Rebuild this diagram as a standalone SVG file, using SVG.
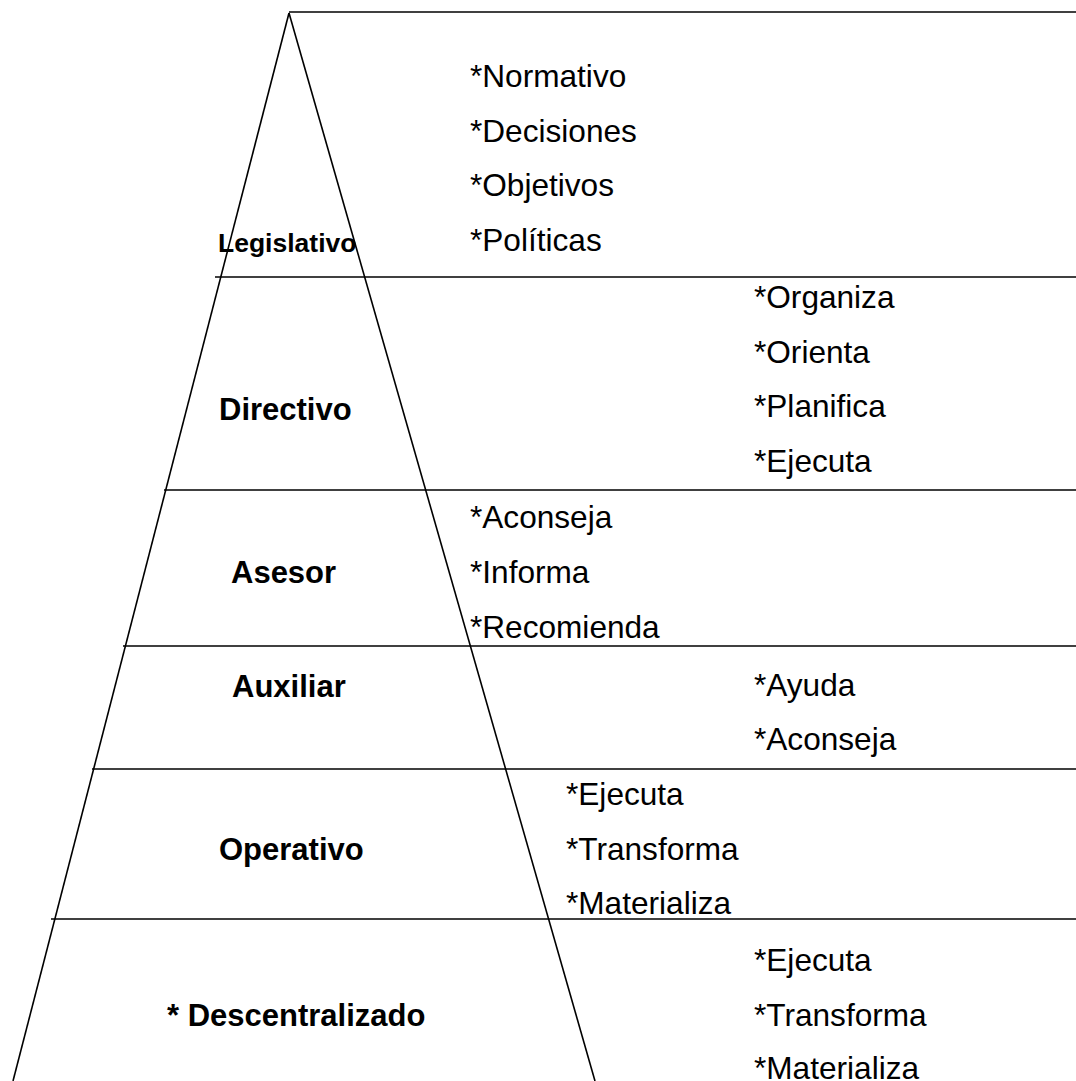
<svg xmlns="http://www.w3.org/2000/svg" width="1076" height="1081" viewBox="0 0 1076 1081">
  <style>
    .ln { stroke: #000; stroke-width: 1.6; fill: none; }
    .lvl { font-family: "Liberation Sans", Arial, sans-serif; font-weight: bold; font-size: 31px; fill: #000; }
    .fn { font-family: "Liberation Sans", Arial, sans-serif; font-size: 31.6px; fill: #000; }
  </style>
  <rect width="1076" height="1081" fill="#fff"/>

  <!-- pyramid outline and level dividers -->
  <g id="connectors">
    <line class="ln" x1="289" y1="13" x2="13" y2="1081"/>
    <line class="ln" x1="289" y1="13" x2="595" y2="1081"/>
    <line class="ln" x1="289" y1="12" x2="1076" y2="12"/>
    <line class="ln" x1="215" y1="277" x2="1076" y2="277"/>
    <line class="ln" x1="164" y1="490" x2="1076" y2="490"/>
    <line class="ln" x1="123" y1="646" x2="1076" y2="646"/>
    <line class="ln" x1="92" y1="769" x2="1076" y2="769"/>
    <line class="ln" x1="51" y1="919" x2="1076" y2="919"/>
  </g>

  <g id="legislativo">
    <text class="lvl" x="218" y="252" style="font-size:26.5px">Legislativo</text>
    <text class="fn" x="470" y="87">*Normativo</text>
    <text class="fn" x="470" y="142">*Decisiones</text>
    <text class="fn" x="470" y="196">*Objetivos</text>
    <text class="fn" x="470" y="251">*Políticas</text>
  </g>

  <g id="directivo">
    <text class="lvl" x="219" y="420">Directivo</text>
    <text class="fn" x="754" y="308">*Organiza</text>
    <text class="fn" x="754" y="363">*Orienta</text>
    <text class="fn" x="754" y="417">*Planifica</text>
    <text class="fn" x="754" y="472">*Ejecuta</text>
  </g>

  <g id="asesor">
    <text class="lvl" x="231" y="583">Asesor</text>
    <text class="fn" x="470" y="528">*Aconseja</text>
    <text class="fn" x="470" y="583">*Informa</text>
    <text class="fn" x="470" y="638">*Recomienda</text>
  </g>

  <g id="auxiliar">
    <text class="lvl" x="232" y="697">Auxiliar</text>
    <text class="fn" x="754" y="696">*Ayuda</text>
    <text class="fn" x="754" y="750">*Aconseja</text>
  </g>

  <g id="operativo">
    <text class="lvl" x="219" y="860">Operativo</text>
    <text class="fn" x="566" y="805">*Ejecuta</text>
    <text class="fn" x="566" y="860">*Transforma</text>
    <text class="fn" x="566" y="914">*Materializa</text>
  </g>

  <g id="descentralizado">
    <text class="lvl" x="167" y="1026">* Descentralizado</text>
    <text class="fn" x="754" y="971">*Ejecuta</text>
    <text class="fn" x="754" y="1026">*Transforma</text>
    <text class="fn" x="754" y="1079">*Materializa</text>
  </g>
</svg>
